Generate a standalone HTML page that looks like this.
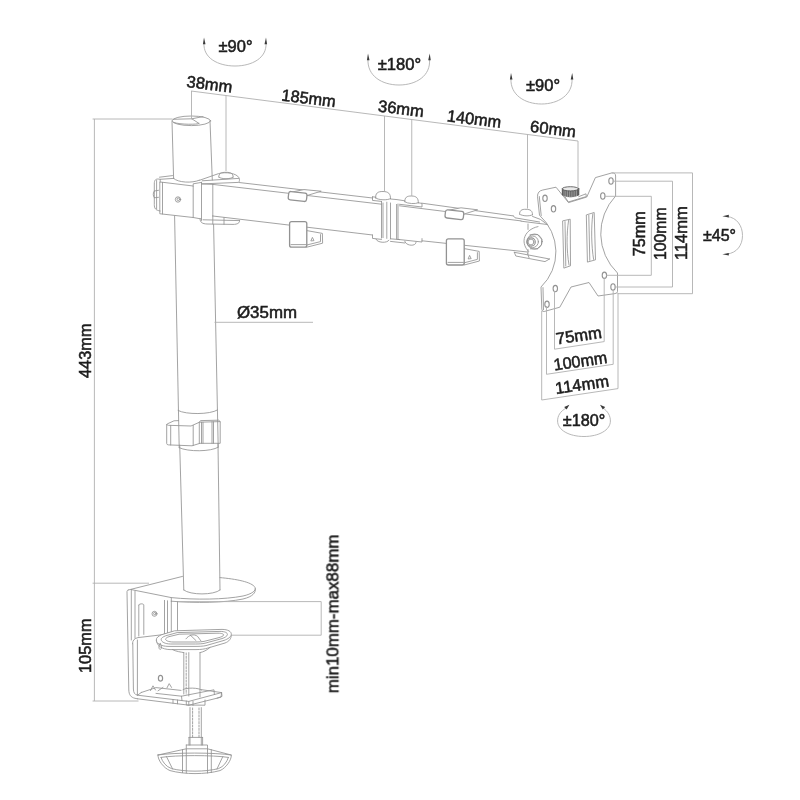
<!DOCTYPE html>
<html lang="en">
<head>
<meta charset="utf-8">
<title>Monitor arm dimensions</title>
<style>
html,body{margin:0;padding:0;background:#fff;}
body{width:800px;height:800px;overflow:hidden;position:relative;}
svg{position:absolute;left:0;top:0;display:block;}
.ln{fill:none;stroke:#929292;stroke-width:.85;stroke-linecap:round;stroke-linejoin:round;}
.dm{fill:none;stroke:#b0b0b0;stroke-width:.9;}
.wf{fill:#fff;}
text{font-family:"Liberation Sans",sans-serif;font-size:16.5px;fill:#1d1d1d;stroke:#1d1d1d;stroke-width:.55;}
</style>
</head>
<body>
<svg width="800" height="800" viewBox="0 0 800 800">
<rect width="800" height="800" fill="#fff"/>

<!-- ================= ROTATION ARCS ================= -->
<g class="dm" id="arcs">
  <path d="M204,43 C203,58 218,66 235,66 C252,66 267,58 266,43"/>
  <path d="M368,59 C367,76 382,85 399,85 C416,85 431,76 429.5,59"/>
  <path d="M511,78.5 C510,95 525,104 541.5,104 C558,104 573,95 572,78.5"/>
  <path d="M727,216.5 C737,217.5 742.5,226 742.5,235.5 C742.5,245 737,253 727,254"/>
  <path d="M566.3,408 C560,411.4 557.6,416 557.6,421 C557.6,430 569,436.5 584,436.5 C599,436.5 610.4,430 610.4,421 C610.4,416 608,411.4 603,408"/>
</g>
<g id="arrowheads" fill="#3a3a3a" stroke="none">
  <path d="M204,37.6 l1.5,6.6 h-2.6z"/>
  <path d="M266,37.6 l1.1,6.6 h-2.6z"/>
  <path d="M368,53.6 l1.5,6.6 h-2.6z"/>
  <path d="M429.7,53.6 l1.1,6.6 h-2.6z"/>
  <path d="M511,73 l1.5,6.6 h-2.6z"/>
  <path d="M572.2,73 l1.1,6.6 h-2.6z"/>
  <path d="M722.4,216.2 l6.4,-1.4 v2.7z"/>
  <path d="M722.4,254.2 l6.4,-1.3 v2.7z"/>
  <path d="M569.4,404.8 l-5.2,2.2 l2.4,2.5z"/>
  <path d="M600,404.8 l5.2,2.2 l-2.4,2.5z"/>
</g>

<!-- ================= DRAWING ================= -->
<g class="ln" id="drawing" style="filter:blur(.3px)">
<!-- ===== POLE ===== -->
<ellipse cx="191.4" cy="120.8" rx="19.2" ry="4.8"/>
<path d="M173.6,122.4 C180,124.8 198,124.6 199,123.6"/>
<path d="M173,119.3 L191.8,118.8 L199,123.4 M191.8,118.8 L203,116.6"/>
<path d="M172,121 L173.6,178.5"/>
<path d="M210,121 L212.3,180"/>
<path d="M174.6,216 L179.2,447.7"/>
<path d="M213.6,224.5 L218.2,447.2"/>
<path d="M179.7,445.2 L183.8,590"/>
<path d="M218,443.4 L220,590"/>
<path d="M183.8,590 C190,595.3 214,595.3 220,590"/>

<!-- ===== HEIGHT RING ===== -->
<path d="M178.1,410.5 C186,414.8 210,414.6 217.4,410"/>
<path d="M179.2,447.7 C188,452 211,451.8 218.2,447.2"/>
<path d="M166.7,424.5 L166.7,443.5 Q166.8,444.8 168.5,444.9 L192,445.8 L200,443.3 L220.2,443.3 L220.2,421.6 L199.5,422.2 L191,426 L168.5,425.3 Q166.8,425.2 166.7,424.5 Z"/>
<path d="M167.5,423.8 L174,420.8 L178.6,420.6"/>
<path d="M170.7,425.5 V445 M193.2,425.5 V445.5 M199.3,422.5 V443.5 M201.5,422.2 V443.3 M203,422.2 V443.3 M212,421.8 V443.3 M213.5,421.8 V443.3"/>
<path d="M199.3,422.3 L200.5,420.6 L218.6,420.2 L220.2,421.6"/>

<!-- ===== POLE CLAMP BLOCK ===== -->
<path d="M160.2,179.3 C155.5,178.2 154.3,180 154.3,184 L154.3,204.5 C154.3,208.5 155.5,210.3 160.2,211"/>
<path d="M156.6,180.5 V209"/>
<path d="M154.3,191 C152.8,191.5 152.8,197 154.3,197.8 M154.3,191 L158.5,190.3 M154.3,197.8 L158.5,197.3"/>
<path d="M160.2,182 L193.2,186 L193.2,217.5 L160.2,213.8 Z"/>
<path d="M162.5,182.4 V214"/>
<path d="M159.5,177.2 L172.5,175.6"/>
<path d="M160.2,182 L160.2,179.3 L173.7,178.4"/>
<path d="M173.7,178.5 C178,182.6 192,183.4 199.3,180.2"/>
<path d="M193.2,186 L193.2,183.8 L201.5,182.4 M193.2,217.5 L201.5,219"/>
<path d="M201.5,182.3 V220.5"/>
<path d="M201.5,183.9 L212.8,184.4 M212.8,184.4 V216"/>
<circle cx="178" cy="199.5" r="2.7"/>
<circle cx="178.3" cy="199.3" r="1.3"/>
<!-- top ear -->
<path d="M199.5,180.3 L218.6,173.6 C226,171.6 236.5,173.2 239,177.8 C239.8,179.5 239.6,181.5 238.5,182.4 L201.5,183.9"/>
<path d="M202.3,180.8 L238.6,178.4"/>
<path d="M218.8,177 C218.6,173.4 221,172.3 226,172.3 C231,172.3 233.3,173.6 233.1,177.2"/>
<path d="M218.8,177.2 C222,179.3 230,179.3 233.1,177.2"/>
<!-- bottom ear -->
<path d="M200,218.6 C200,222.6 202.5,223.8 207,224 L233,224.4 C237.5,224.4 239.9,223 239.6,220.6"/>
<path d="M203,219.8 L239.6,220.6"/>
<path d="M212.8,216 V224 M224,217.6 V224.3"/>

<!-- ===== ARM 1 ===== -->
<path d="M239,182.5 L372.5,198"/>
<path d="M212.8,184.4 L381.5,204.2"/>
<path d="M212.8,216 L372.5,235"/>
<!-- cable clip top 1 -->
<path class="wf" d="M289.8,192.4 L304,189.6 L321.2,191.2 L306.8,195.6 Z"/>
<rect class="wf" stroke-width="1.3" x="288.4" y="192.3" width="18.4" height="8.4" rx="2.2" transform="rotate(6.5 297.6 196.5)"/>
<!-- cable clip bottom 1 -->
<path class="wf" d="M306.8,230.6 L322.4,233.4 L322.6,243.2 L306.8,247.2 Z"/>
<path d="M306.8,245 L320.5,241.6 L320.5,234.6"/>
<path d="M311,240.6 L312.4,237.4 L313.8,240.3 Z"/>
<rect class="wf" stroke-width="1.3" x="289.6" y="221.6" width="17.2" height="25.6" rx="2"/>
<path d="M291,244.6 H306"/>

<!-- ===== MID JOINT ===== -->
<path d="M375.6,198 C375.4,193.2 377.6,191.4 383,191.5 C388.4,191.6 390.6,193.6 390.5,198.6"/>
<path d="M375.6,198 C379,200.2 387,200.5 390.5,198.6"/>
<path d="M404.8,201.8 C404.6,197.4 406.8,195.9 411.5,196 C416.4,196.1 418.5,198 418.3,202.8"/>
<path d="M404.8,201.8 C408,203.8 415,204.2 418.3,202.8"/>
<path d="M372.5,196.8 L372.5,200.4 L381.5,201.4 M372.5,196.8 L376,197.2 M390.5,199 L397,199.6 L404.8,200.8 M418.3,202.8 L422,203.4 L422,207 L399.5,204.3"/>
<path d="M381.5,201.4 L381.5,238 M386.8,202.2 V238.4 M390.5,203 V238.8 M398,204 V239.6"/>
<path d="M383,203 V237.6 M396.6,204.4 V239"/>
<path d="M372.5,235 L372.5,238.4 L381.5,239.4 M398,239.4 L422,242 L422,238.6"/>
<path d="M376,239.2 C377,242.8 387,243.6 389,240.2"/>
<path d="M404.8,241.2 C405.5,246 416.5,247 416,242"/>
<path d="M390.5,238.8 L399.5,239.6 M390.5,241.4 L404.8,243"/>

<!-- ===== ARM 2 ===== -->
<path d="M422,203.2 L513.4,215.9"/>
<path d="M399.5,205.8 L521,220.9"/>
<path d="M422,240.8 L527.5,252"/>
<!-- cable clip top 2 -->
<path class="wf" d="M446.6,210.6 L461,207.8 L477.6,209.8 L463.6,214.2 Z"/>
<rect class="wf" stroke-width="1.3" x="445.2" y="210.6" width="18.4" height="8.2" rx="2.2" transform="rotate(6.5 454.4 214.7)"/>
<!-- cable clip bottom 2 -->
<path class="wf" d="M464.2,248.6 L479.2,251.4 L479.4,261 L464.2,265 Z"/>
<path d="M464.2,262.8 L477.4,259.4 L477.4,252.6"/>
<path d="M468.3,258.6 L469.6,255.4 L471,258.3 Z"/>
<rect class="wf" stroke-width="1.3" x="446.4" y="238.8" width="17.8" height="26.2" rx="2"/>
<path d="M448,262.4 H463.4"/>

<!-- ===== HEAD HINGE ===== -->
<path d="M519.6,214.2 C519.4,210.4 521.6,209.2 526,209.3 C530.6,209.4 532.6,210.8 532.5,214.8"/>
<path d="M519.6,214.2 C522.5,216.2 529.5,216.5 532.5,214.8"/>
<path d="M513.4,215.9 L515,217.8 L539.6,222 M532.5,216.4 L540.4,219.4 L550,226.4"/>
<path d="M521,221.2 L548,224.6"/>
<path d="M528,224 V229.4 M528,249.6 V253.4"/>
<path d="M538,226.6 C531,228 525.6,232.5 524.3,238.5 C523.4,243 525,248 528.6,251.4"/>
<circle cx="534.6" cy="241.6" r="7.6"/>
<path d="M538,235 L541.8,239.4 L541.4,245 L537.4,248.6 M530,234.8 L537.6,234.6 M530.4,248.8 L537.6,248.8"/>
<circle cx="532.6" cy="241.8" r="5.8"/>
<circle cx="531.2" cy="242" r="4.1" stroke-width="1.1"/><circle cx="531" cy="242" r="2.9"/>
<path d="M514.3,252.3 L549.5,259 M514.3,252.3 L515.8,256 L545,261.6 L549.5,259 M527.5,253.6 L529,257.6"/>

<!-- ===== VESA PLATE ===== -->
<path class="wf" d="M537.5,196 Q537.5,191 542.8,190 L556,187.2 L568.5,202.6 L586.8,197 L595.4,177.6 L611.5,173 Q615.6,172.4 615.6,176 L615.6,196 A54.9,54.9 0 0 0 617.5,273 L617.5,291.5 Q617.5,293.3 615,293.6 L598,296 L589,282.5 L571,287 L559.8,307.2 L544.2,311.5 Q541.8,312 541.8,309 L541,287 A48.8,48.8 0 0 0 539.8,215.5 Z"/>
<path d="M539.3,196.5 L541.2,215.6 M543,287.6 L543.5,309.6"/>
<!-- holes -->
<ellipse cx="545" cy="198.3" rx="2.2" ry="3.2" stroke-width="1.1"/>
<ellipse cx="553.5" cy="208.8" rx="2.2" ry="3.2" stroke-width="1.1"/>
<ellipse cx="611" cy="181" rx="2.2" ry="3.2" stroke-width="1.1"/>
<ellipse cx="602.8" cy="196" rx="2.2" ry="3.2" stroke-width="1.1"/>
<ellipse cx="604.4" cy="275.3" rx="2.2" ry="3.2" stroke-width="1.1"/>
<ellipse cx="613" cy="287" rx="2.2" ry="3.2" stroke-width="1.1"/>
<ellipse cx="555.3" cy="288.6" rx="2.2" ry="3.2" stroke-width="1.1"/>
<ellipse cx="547" cy="304.3" rx="2.2" ry="3.2" stroke-width="1.1"/>
<!-- slots -->
<path d="M563,220.8 L570.2,219.2 L570.5,265.8 L564.2,268 Z"/>
<path d="M565,221.6 L565.8,266 M568.6,220.4 C566.5,234 566.5,250 569,265"/>
<path d="M586.7,214.8 L594.2,212.5 L595.5,259.8 L587.8,262 Z"/>
<path d="M588.8,215.4 L589.8,260.4 M592.8,214 C591,228 591.4,246 593.6,259.4"/>
<!-- knob -->
<path d="M564.5,196 L568.3,202 L585.5,196.8 M578.8,196.6 L586,193.8 L586.3,196.5"/>
<path d="M562.3,189 L562.3,195 Q570.5,198.6 578.8,195 L578.8,189 Z" fill="#5a5a5a" stroke="#4a4a4a"/>
<path d="M564,190 V196 M565.8,190.4 V196.6 M567.6,190.6 V197 M569.4,190.8 V197.2 M571.2,190.8 V197.2 M573,190.8 V197 M574.8,190.6 V196.8 M576.6,190.2 V196.2" stroke="#c8c8c8" stroke-width=".6"/>
<ellipse cx="570.5" cy="188.8" rx="8.3" ry="2.1" fill="#e9e9e9" stroke="#555"/>

<!-- ===== DESK CLAMP ===== -->
<!-- top plate -->
<path d="M128.2,590 L182.5,576.4"/>
<path d="M220,577.6 C236,579 252,582 255,587.4 C256.5,590.5 252,594 243,596 C225,599.6 195,600 171.3,597.6 L131.3,589.6"/>
<path d="M255.3,588.6 C256,592.6 253,596.6 243,599 C225,602.8 195,603.2 171.3,601.2"/>
<path d="M171.3,597.6 V601.2"/>
<!-- vertical bracket -->
<path d="M128.2,590 C127,590.4 127,591.2 127,592 L128.8,690 C129,695 131,697.4 135,698.3 L137.5,698.8"/>
<path d="M131.3,589.6 V640 M135,591 V638"/>
<path d="M138.8,605 C138.8,603.4 143.8,603.4 143.8,605 L143.8,634.4 M138.8,605 V636"/>
<circle cx="154.5" cy="613.8" r="2.5"/>
<circle cx="154.8" cy="613.6" r="1.2"/>
<path d="M164.5,600.4 V634.2 M167.5,600.8 V633.6 M171.3,601.2 V632.8 M177.5,601.4 V631.6"/>
<path d="M132.5,643.8 C132.6,640 134.5,638.4 138,637.6 L160,635 L177.5,631.6"/>
<path d="M132.8,643.8 L133.4,689 C133.5,692.6 134.6,694.6 137.5,695.2 L141.3,692.5"/>
<path d="M137.4,640 V695"/>
<ellipse cx="160.5" cy="678.2" rx="2.1" ry="2.9" stroke-width="1.2"/>
<!-- pressure plate -->
<path class="wf" d="M156.4,640.6 C157,646 162,649.3 170,649.6 L196,649.6 C201,649.6 205,649 208,648 L225,643 C229,641.6 231.4,638.6 231.3,634.8 L156.4,640 Z"/>
<path class="wf" d="M175,630.8 L222,629.4 C228,629.4 231.6,631.6 231.3,634.4 C231,637 228,639 224,640.4 L206,645.6 C203,646.3 199,646.4 195,646.4 L168,646.4 C161,646.2 156.5,643.6 156.3,640 C156.2,637.6 158.6,636 161.5,634.8 Z"/>
<path d="M177.5,632.6 L220,631.4 C225,631.4 227.6,632.8 227.4,634.6 C227.2,636.2 225,637.6 222,638.6 L205,643.2 C202.5,643.8 199,644 195.5,644 L170.5,644 C165,643.9 161.4,642 161.2,639.6 C161.1,638 163,636.8 165.4,635.9 Z"/>
<path d="M179.5,634.2 L218,633.2 C222,633.3 224,634 223.6,635.2 C223.2,636.2 221,637 219,637.6 L204,641.4 C201.6,641.9 199,642 196,642 L173,642 C168.5,641.9 165.6,640.6 165.6,639.2 C165.6,638.2 167,637.4 168.6,636.8 Z"/>
<path d="M186,638.8 C189,634.8 194,633.6 197.6,636.4 L201,641 M190.4,635.2 L196,640.6"/>
<path d="M172.5,649.6 C176,651.6 181,652 183.8,652.6 M210,647.4 C207,650.4 203,652 200,652.6"/>
<path d="M160.2,643.6 C158.4,645.4 158.4,648.6 160.2,649.6 C162,648.6 162,645.4 160.2,643.6 Z"/>
<!-- screw upper -->
<path d="M183.8,652.6 V694 M188.8,652.6 V696 M200,652.6 V697"/>
<path d="M186.2,653 V694" stroke-dasharray="2 1.4"/>
<!-- bottom plate -->
<path d="M141.3,692.5 L156,687.6 L181,690.4"/>
<path d="M137.5,698.8 L188.8,705.2 L221,697.2 L221.6,692.6 L201,689.6"/>
<path d="M137.5,695.2 L188.8,701.4 L221.6,692.6"/>
<path d="M150.5,690.6 L153,685.8 L155.5,690 M167,687.8 L169.2,683.6 L171.5,687.4 M158,690.8 L163,687.4"/>
<path d="M156,693.4 L181.5,696.2 L214,689.8 L214.4,694.6 M181.5,696.2 L182,700.6"/>
<path d="M183,689.6 C186,687.4 199,687.6 201.5,690"/>
<path d="M186.3,701 L186.3,705 L205,705.2 L205,700 M188.8,701.4 V705.2 M193,701.4 V705.4 M173,699.4 V703.2 M177.5,700 V703.8"/>
<path d="M217,698.2 L222,696.4 L221.6,692.6"/>
<!-- screw lower -->
<path d="M190,707.6 V745 M201.3,707.6 V745"/>
<path d="M192.6,708 V737" stroke-dasharray="2 1.4"/>
<path d="M199,708 V737" stroke-dasharray="2 1.4"/>
<path d="M189,737.4 H202.6 M189,737.4 V745 M202.6,737.4 V745"/>
<!-- knob -->
<path d="M186.3,745 H207.5 V750 M186.3,745 V750"/>
<path d="M158,755 L186.3,748.8 L207.5,748.8 L231.3,755 C231.6,760 226,768 220,770.6 C205,774.6 185,774.6 170,770.6 C163.5,768 157.6,760 158,755 Z"/>
<path d="M158,755 C175,752.4 214,752.4 231.3,755"/>
<path d="M161,757.4 C176,755 213,755 228.4,757.4"/>
<path d="M161,757.4 C162.5,762 166,766.6 171.5,768.6 C185,772 205,772 218.5,768.6 C223.6,766.6 227,762 228.4,757.4"/>
<path d="M182.5,749.6 V772.6 M186.3,750 V773 M207.5,750 V773 M211.3,749.6 V772.6"/>
<path d="M166.5,756.6 L172.6,769 M222.8,756.6 L217,769"/>
</g>

<!-- ================= DIMENSION LINES ================= -->
<g class="dm" id="dims" style="filter:blur(.3px)">
  <!-- top sloped dimension line -->
  <path d="M191,91 L578,141"/>
  <path d="M191.5,91 V119"/>
  <path d="M226,95.5 V171"/>
  <path d="M384.5,116 V192"/>
  <path d="M411.75,119.5 V196"/>
  <path d="M527.5,134.5 V208.5"/>
  <path d="M578,141 V188"/>
  <!-- left height dims -->
  <path d="M94.4,119 V701"/>
  <path d="M92.6,119 H172.4"/>
  <path d="M92.6,583.2 H149"/>
  <path d="M92.6,701 H138.5"/>
  <!-- pole diameter -->
  <path d="M214.5,322.3 H313"/>
  <!-- clamp range -->
  <path d="M177.5,601.6 H321.2 V635.2 H231.5"/>
  <!-- VESA right dims -->
  <path d="M611.5,172.9 H692.5 V293.7 H617.5"/>
  <path d="M612.8,181.2 H672.5 V287 H614.8"/>
  <path d="M604.6,196.3 H651.3 V275.3 H606.3"/>
  <!-- VESA bottom dims -->
  <path d="M541.7,311 V400 L618,388.6 V293"/>
  <path d="M546.5,306 V374.3 L613.2,364.3 V289"/>
  <path d="M554.5,291 V349.2 L604.2,341.6 V277.5"/>
</g>

<!-- ================= TEXT ================= -->
<g id="labels" style="opacity:.999">
  <text x="235.5" y="51.5" font-size="17.6" text-anchor="middle" textLength="34" lengthAdjust="spacingAndGlyphs">±90°</text>
  <text x="399.5" y="69.5" font-size="17.6" text-anchor="middle" textLength="43.5" lengthAdjust="spacingAndGlyphs">±180°</text>
  <text x="543" y="90.8" font-size="17.6" text-anchor="middle" textLength="34" lengthAdjust="spacingAndGlyphs">±90°</text>
  <text x="719.5" y="240.5" font-size="17.6" text-anchor="middle" textLength="33" lengthAdjust="spacingAndGlyphs">±45°</text>
  <text x="584" y="425.5" font-size="17.6" text-anchor="middle" textLength="42.5" lengthAdjust="spacingAndGlyphs">±180°</text>

  <text transform="translate(186,87) rotate(7)" textLength="46" lengthAdjust="spacingAndGlyphs">38mm</text>
  <text transform="translate(281,100.5) rotate(7)" textLength="54.5" lengthAdjust="spacingAndGlyphs">185mm</text>
  <text transform="translate(377.5,111.5) rotate(7)" textLength="46" lengthAdjust="spacingAndGlyphs">36mm</text>
  <text transform="translate(446.5,121.3) rotate(7)" textLength="54.5" lengthAdjust="spacingAndGlyphs">140mm</text>
  <text transform="translate(529.6,131.8) rotate(7)" textLength="46" lengthAdjust="spacingAndGlyphs">60mm</text>

  <text x="237" y="317.6" stroke-width=".2" textLength="60" lengthAdjust="spacingAndGlyphs">Ø35mm</text>

  <text transform="translate(90.6,378) rotate(-90)" textLength="54.5" lengthAdjust="spacingAndGlyphs">443mm</text>
  <text transform="translate(90.7,673) rotate(-90)" textLength="54.5" lengthAdjust="spacingAndGlyphs">105mm</text>
  <text transform="translate(338.4,693.2) rotate(-90)" textLength="158.5" lengthAdjust="spacingAndGlyphs">min10mm-max88mm</text>

  <text transform="translate(644.5,256.3) rotate(-90)" textLength="45" lengthAdjust="spacingAndGlyphs">75mm</text>
  <text transform="translate(666.3,260) rotate(-90)" textLength="52.5" lengthAdjust="spacingAndGlyphs">100mm</text>
  <text transform="translate(687,260) rotate(-90)" textLength="53.7" lengthAdjust="spacingAndGlyphs">114mm</text>

  <text transform="translate(556.8,344.4) rotate(-8.2)" textLength="46" lengthAdjust="spacingAndGlyphs">75mm</text>
  <text transform="translate(554.5,370.5) rotate(-8.2)" textLength="53.8" lengthAdjust="spacingAndGlyphs">100mm</text>
  <text transform="translate(556.1,393.9) rotate(-8.2)" textLength="54" lengthAdjust="spacingAndGlyphs">114mm</text>
</g>
</svg>
</body>
</html>
